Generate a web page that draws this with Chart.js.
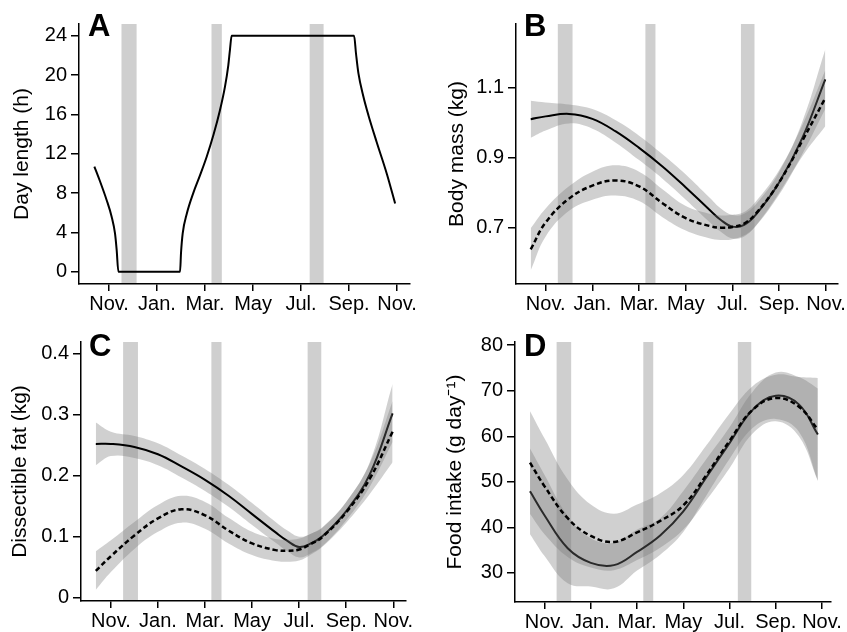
<!DOCTYPE html>
<html>
<head>
<meta charset="utf-8">
<script src="https://cdn.jsdelivr.net/npm/chart.js@4.4.1/dist/chart.umd.min.js"></script>
<style>
    html, body { margin: 0; padding: 0; background: #fff; }
    #figura { position: relative; width: 847px; height: 632px; }
    .painel { position: absolute; }
</style>
</head>
<body>
<div id="figura">
    <div class="painel" style="left:0;top:0;width:424px;height:316px"><canvas id="graficoA"></canvas></div>
    <div class="painel" style="left:424px;top:0;width:423px;height:316px"><canvas id="graficoB"></canvas></div>
    <div class="painel" style="left:0;top:316px;width:424px;height:316px"><canvas id="graficoC"></canvas></div>
    <div class="painel" style="left:424px;top:316px;width:423px;height:316px"><canvas id="graficoD"></canvas></div>
</div>
<script>
// Eixo x em meses: 0 = Nov., 2 = Jan., ... 12 = Nov.
const mesesTicks = [0, 2, 4, 6, 8, 10, 12];
const mesesLabels = ['Nov.', 'Jan.', 'Mar.', 'May', 'Jul.', 'Sep.', 'Nov.'];

// Faixas cinzas verticais (inicio / fim, em meses)
const faixaInicio = [0.52, 4.27, 8.36];
const faixaFim = [1.15, 4.70, 8.94];

// A - duração do dia
const diaMeses = [-0.61, -0.375, -0.10, 0.11, 0.25, 0.32, 0.39, 2.96, 3.00, 3.07, 3.24, 3.51, 3.79, 4.07, 4.35, 4.62, 4.83, 4.97, 5.04, 5.11, 10.21, 10.29, 10.39, 10.60, 10.81, 11.15, 11.57, 11.92];
const diaHoras = [10.7, 9.2, 7.3, 5.6, 3.9, 2.2, 0, 0, 1.9, 3.9, 5.9, 8.0, 9.8, 11.7, 13.9, 16.4, 18.8, 21.0, 22.6, 24, 24, 22.2, 20.2, 17.8, 15.9, 13.2, 10.0, 6.95];
const diaTicks = [0, 4, 8, 12, 16, 20, 24];

// B - massa corporal
const massaMeses = [-0.64, 0, 1, 2, 3, 4, 5, 6, 7, 7.5, 8, 8.5, 9, 10, 11, 11.97];
const massaSolida = [1.010, 1.018, 1.025, 1.011, 0.975, 0.928, 0.875, 0.815, 0.752, 0.722, 0.703, 0.708, 0.737, 0.830, 0.958, 1.124];
const massaSolidaSup = [1.063, 1.058, 1.052, 1.039, 1.007, 0.963, 0.910, 0.852, 0.787, 0.755, 0.736, 0.740, 0.767, 0.860, 1.005, 1.209];
const massaSolidaInf = [0.957, 0.978, 0.998, 0.983, 0.943, 0.893, 0.840, 0.780, 0.717, 0.688, 0.669, 0.675, 0.706, 0.800, 0.912, 1.039];
const massaTracejada = [0.638, 0.715, 0.783, 0.820, 0.835, 0.818, 0.770, 0.727, 0.705, 0.700, 0.702, 0.712, 0.740, 0.830, 0.950, 1.070];
const massaTracejadaSup = [0.698, 0.755, 0.818, 0.860, 0.878, 0.860, 0.810, 0.762, 0.740, 0.735, 0.737, 0.745, 0.775, 0.865, 0.995, 1.150];
const massaTracejadaInf = [0.578, 0.675, 0.748, 0.780, 0.792, 0.776, 0.730, 0.692, 0.670, 0.665, 0.667, 0.678, 0.705, 0.795, 0.905, 0.990];
const massaTicks = [0.7, 0.9, 1.1];

// C - gordura dissecável
const gorduraMeses = [-0.64, 0, 1, 2, 3, 4, 5, 6, 7, 7.5, 8, 8.5, 9, 10, 11, 11.97];
const gorduraSolida = [0.252, 0.252, 0.247, 0.235, 0.215, 0.193, 0.167, 0.137, 0.107, 0.093, 0.083, 0.089, 0.101, 0.142, 0.202, 0.302];
const gorduraSolidaSup = [0.287, 0.272, 0.265, 0.253, 0.233, 0.211, 0.185, 0.155, 0.124, 0.110, 0.100, 0.105, 0.115, 0.157, 0.222, 0.350];
const gorduraSolidaInf = [0.217, 0.232, 0.229, 0.217, 0.197, 0.175, 0.149, 0.119, 0.090, 0.076, 0.066, 0.073, 0.085, 0.127, 0.182, 0.255];
const gorduraTracejada = [0.044, 0.068, 0.102, 0.130, 0.145, 0.135, 0.110, 0.089, 0.078, 0.077, 0.079, 0.088, 0.100, 0.140, 0.195, 0.272];
const gorduraTracejadaSup = [0.076, 0.094, 0.124, 0.152, 0.167, 0.157, 0.131, 0.108, 0.096, 0.095, 0.097, 0.105, 0.116, 0.157, 0.220, 0.322];
const gorduraTracejadaInf = [0.013, 0.042, 0.080, 0.108, 0.123, 0.113, 0.089, 0.070, 0.060, 0.059, 0.061, 0.071, 0.084, 0.123, 0.170, 0.222];
const gorduraTicks = [0, 0.1, 0.2, 0.3, 0.4];

// D - ingestão de alimento
const alimentoMeses = [-0.63, 0, 1, 2, 3, 4, 5, 6, 7, 8, 9, 10, 11, 11.82];
const alimentoSolida = [47.9, 42.6, 35.4, 32.2, 31.7, 34.6, 38.2, 43.5, 51.0, 58.5, 65.8, 68.9, 67.0, 60.4];
const alimentoSolidaSup = [57.3, 51.5, 42.5, 37.6, 36.6, 39.5, 42.0, 48.0, 55.0, 62.0, 69.8, 74.0, 73.0, 70.5];
const alimentoSolidaInf = [38.5, 33.7, 27.7, 27.0, 26.6, 30.5, 34.0, 39.0, 47.0, 55.0, 61.8, 63.8, 61.0, 50.3];
const alimentoTracejada = [54.2, 49.0, 42.0, 38.1, 36.8, 38.9, 41.4, 44.8, 51.5, 59.0, 65.8, 68.4, 66.5, 61.5];
const alimentoTracejadaSup = [65.5, 59.5, 50.5, 45.0, 43.0, 45.0, 47.5, 51.5, 58.0, 65.0, 71.0, 73.5, 73.0, 72.8];
const alimentoTracejadaInf = [42.9, 38.5, 33.5, 31.2, 30.6, 32.8, 35.5, 39.5, 46.0, 53.0, 60.6, 63.3, 60.0, 50.2];
const alimentoTicks = [30, 40, 50, 60, 70, 80];

const fonte = 'Arial, "Liberation Sans", Helvetica, sans-serif';
const corFaixa = '#cfcfcf';
const corBanda = 'rgba(120, 120, 120, 0.35)';
Chart.defaults.font.family = fonte;

// Plugin: faixas verticais e letra do painel
const faixasPlugin = {
    id: 'faixas',
    beforeDraw(chart, args, opts) {
        const { ctx, chartArea, scales: { x } } = chart;
        ctx.save();
        ctx.fillStyle = corFaixa;
        faixaInicio.forEach((ini, i) => {
            const x0 = x.getPixelForValue(ini);
            const x1 = x.getPixelForValue(faixaFim[i]);
            ctx.fillRect(x0, chartArea.top, x1 - x0, chartArea.bottom - chartArea.top);
        });
        ctx.restore();
    },
    afterDraw(chart, args, opts) {
        const { ctx, chartArea } = chart;
        ctx.save();
        ctx.font = `bold 31px ${fonte}`;
        ctx.fillStyle = '#000';
        ctx.textBaseline = 'alphabetic';
        ctx.fillText(opts.letra, chartArea.left + opts.dx, chartArea.top + opts.dy);
        ctx.restore();
    }
};

function pontos(xs, ys) {
    return xs.map((x, i) => ({ x: x, y: ys[i] }));
}

// Linha sólida + tracejada com as bandas de confiança
function seriesComBandas(xs, sol, solSup, solInf, tra, traSup, traInf) {
    const base = { pointRadius: 0, tension: 0.4 };
    const semBorda = { borderWidth: 0, borderColor: 'rgba(0,0,0,0)' };
    return [
        { ...base, data: pontos(xs, tra), borderColor: '#000', borderWidth: 2.5, borderDash: [5, 3], fill: false },
        { ...base, ...semBorda, data: pontos(xs, traSup), backgroundColor: corBanda, fill: '+1' },
        { ...base, ...semBorda, data: pontos(xs, traInf), fill: false },
        { ...base, data: pontos(xs, sol), borderColor: '#000', borderWidth: 2, fill: false },
        { ...base, ...semBorda, data: pontos(xs, solSup), backgroundColor: corBanda, fill: '+1' },
        { ...base, ...semBorda, data: pontos(xs, solInf), fill: false }
    ];
}

function formatar(v) {
    return String(Number(v.toFixed(3)));
}

// Função para criar cada painel
function criarPainel(id, cfg) {
    const canvas = document.getElementById(id);
    const W = canvas.parentNode.clientWidth;
    const H = canvas.parentNode.clientHeight;
    const area = cfg.area;
    return new Chart(canvas, {
        type: 'line',
        data: { datasets: cfg.datasets },
        options: {
            responsive: true,
            maintainAspectRatio: false,
            animation: false,
            events: [],
            layout: { padding: { top: area.top, right: W - area.right, left: 0, bottom: 0 } },
            plugins: {
                legend: { display: false },
                tooltip: { enabled: false },
                faixas: { letra: cfg.letra, dx: cfg.dx, dy: cfg.dy }
            },
            scales: {
                x: {
                    type: 'linear',
                    min: cfg.xMin,
                    max: cfg.xMax,
                    afterFit: s => { s.height = H - area.bottom; },
                    afterBuildTicks: s => { s.ticks = mesesTicks.map(v => ({ value: v })); },
                    ticks: {
                        callback: (v, i) => mesesLabels[i],
                        font: { size: 20 },
                        color: '#000',
                        padding: 1,
                        maxRotation: 0,
                        autoSkip: false
                    },
                    grid: { drawOnChartArea: false, tickLength: 7, color: '#000', lineWidth: 1.5 },
                    border: { color: '#000', width: 1.5 }
                },
                y: {
                    type: 'linear',
                    min: cfg.yMin,
                    max: cfg.yMax,
                    afterFit: s => { s.width = area.left; },
                    afterBuildTicks: s => { s.ticks = cfg.yTicks.map(v => ({ value: v })); },
                    ticks: {
                        callback: v => formatar(v),
                        font: { size: 20 },
                        color: '#000',
                        padding: 4
                    },
                    grid: { drawOnChartArea: false, tickLength: 8, color: '#000', lineWidth: 1.5 },
                    border: { color: '#000', width: 1.5 },
                    title: {
                        display: true,
                        text: cfg.titulo,
                        font: { size: 21 },
                        color: '#000',
                        padding: { top: cfg.tituloPad, bottom: 0 }
                    }
                }
            }
        },
        plugins: [faixasPlugin]
    });
}

criarPainel('graficoA', {
    area: { left: 79, top: 24, right: 410, bottom: 284 },
    xMin: -1.25, xMax: 12.54,
    yMin: -1.25, yMax: 25.2, yTicks: diaTicks,
    titulo: 'Day length (h)', tituloPad: 10,
    letra: 'A', dx: 9, dy: 12,
    datasets: [{
        data: pontos(diaMeses, diaHoras),
        borderColor: '#000', borderWidth: 2, pointRadius: 0,
        cubicInterpolationMode: 'monotone', fill: false
    }]
});

criarPainel('graficoB', {
    area: { left: 92, top: 24, right: 417, bottom: 284 },
    xMin: -1.27, xMax: 12.5,
    yMin: 0.539, yMax: 1.282, yTicks: massaTicks,
    titulo: 'Body mass (kg)', tituloPad: 21,
    letra: 'B', dx: 8, dy: 12,
    datasets: seriesComBandas(massaMeses, massaSolida, massaSolidaSup, massaSolidaInf,
        massaTracejada, massaTracejadaSup, massaTracejadaInf)
});

criarPainel('graficoC', {
    area: { left: 81, top: 26, right: 406, bottom: 285 },
    xMin: -1.27, xMax: 12.54,
    yMin: -0.0054, yMax: 0.419, yTicks: gorduraTicks,
    titulo: 'Dissectible fat (kg)', tituloPad: 8,
    letra: 'C', dx: 8, dy: 14,
    datasets: seriesComBandas(gorduraMeses, gorduraSolida, gorduraSolidaSup, gorduraSolidaInf,
        gorduraTracejada, gorduraTracejadaSup, gorduraTracejadaInf)
});

criarPainel('graficoD', {
    area: { left: 91, top: 26, right: 407, bottom: 286 },
    xMin: -1.28, xMax: 12.39,
    yMin: 23.6, yMax: 80.7, yTicks: alimentoTicks,
    titulo: 'Food intake (g day\u207B\u00B9)', tituloPad: 19,
    letra: 'D', dx: 9, dy: 14,
    datasets: seriesComBandas(alimentoMeses, alimentoSolida, alimentoSolidaSup, alimentoSolidaInf,
        alimentoTracejada, alimentoTracejadaSup, alimentoTracejadaInf)
});
</script>
</body>
</html>
